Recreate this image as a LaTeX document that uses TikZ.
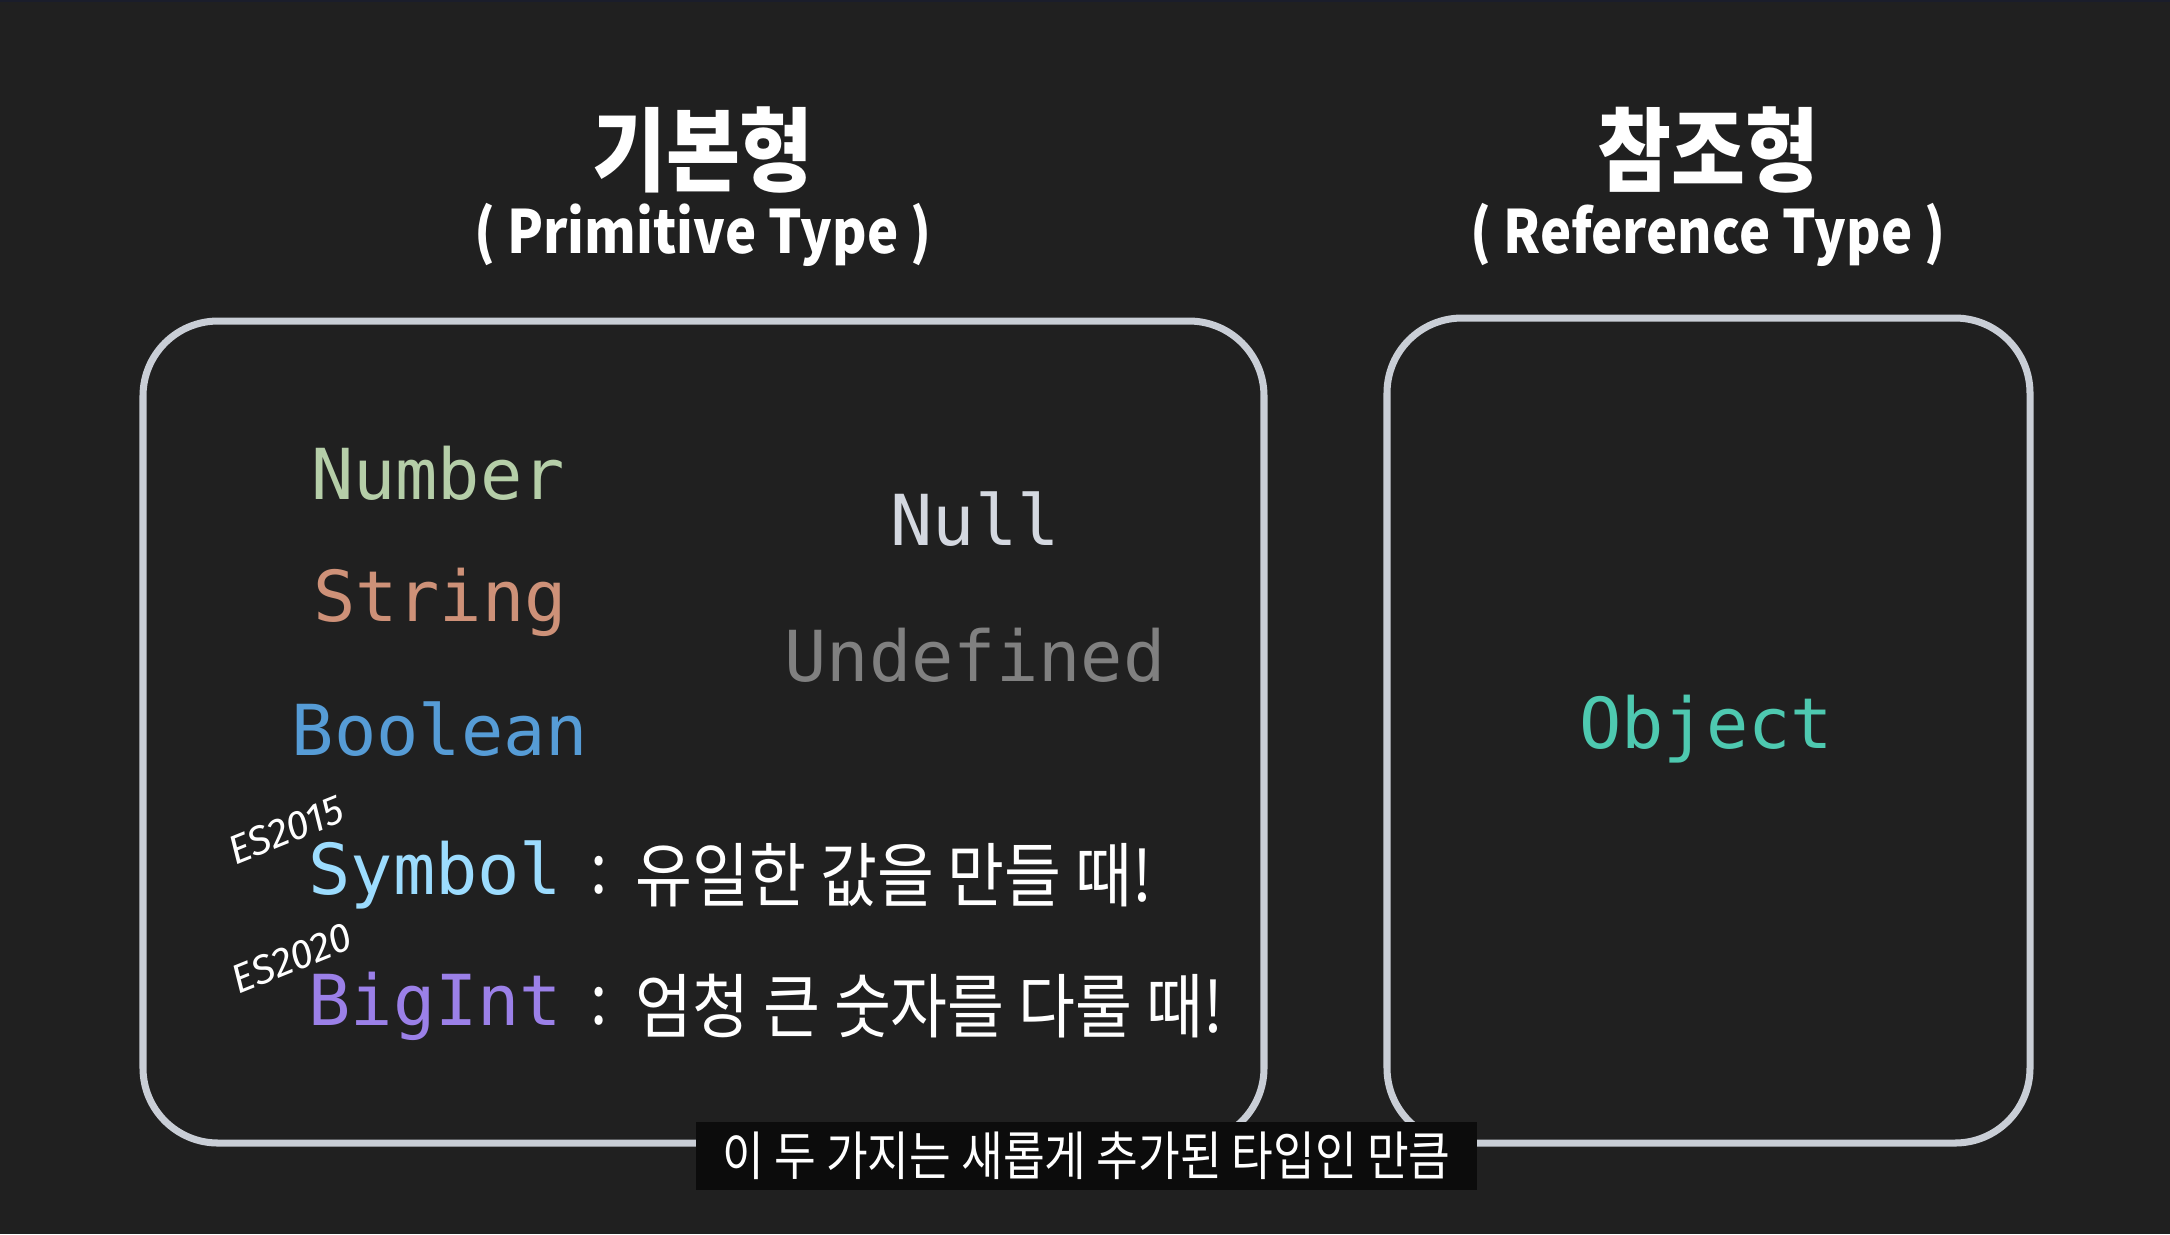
\documentclass[tikz,border=0pt]{standalone}
\usepackage{fontspec}
\setmonofont{DejaVu Sans Mono}
\newfontfamily\krfont[FakeStretch=0.88]{Noto Sans CJK KR}
\newfontfamily\krsub[FakeStretch=0.86]{Noto Sans CJK KR}
\newfontfamily\hand{Fira Sans}
\definecolor{bgcol}{HTML}{202020}
\definecolor{topcol}{HTML}{1A1D2B}
\definecolor{chalk}{HTML}{C9CED6}
\definecolor{numcol}{HTML}{B5CEA8}
\definecolor{strcol}{HTML}{CE9178}
\definecolor{boolcol}{HTML}{569CD6}
\definecolor{nullcol}{HTML}{D4D8E0}
\definecolor{undefcol}{HTML}{808080}
\definecolor{symcol}{HTML}{9CDCFE}
\definecolor{bigcol}{HTML}{9B80E8}
\definecolor{objcol}{HTML}{4EC9B0}
\definecolor{subcol}{HTML}{0C0C0C}
\begin{document}
\begin{tikzpicture}[x=1cm, y=1cm,
    boxStyle/.style={draw=chalk, line width=2pt, rounded corners=0.75cm},
    headStyle/.style={text=white, font=\krfont\bfseries\fontsize{26}{30}\selectfont, inner sep=0pt},
    subHeadStyle/.style={text=white, font=\krfont\bfseries\fontsize{17}{20}\selectfont, inner sep=0pt},
    typeStyle/.style={font=\ttfamily\fontsize{20}{24}\selectfont, inner sep=0pt},
    noteStyle/.style={text=white, font=\krfont\fontsize{20}{24}\selectfont, inner sep=0pt},
    esStyle/.style={text=white, font=\hand\itshape\fontsize{11.5}{13}\selectfont, inner sep=0pt, rotate=22},
    capStyle/.style={fill=subcol, text=white, font=\krsub\fontsize{15}{17}\selectfont, minimum width=7.81cm, minimum height=0.68cm, inner sep=0pt}]
    \fill[bgcol] (0,0) rectangle (21.70,-12.34);
    \fill[topcol] (0,0) rectangle (21.70,-0.02);
    \useasboundingbox (0,0) rectangle (21.70,-12.34);

    \node[headStyle]    (prim_title) at ( 7.03, -1.50) {기본형};
    \node[subHeadStyle] (prim_sub)   at ( 7.03, -2.35) {( Primitive Type )};
    \node[headStyle]    (ref_title)  at (17.08, -1.50) {참조형};
    \node[subHeadStyle] (ref_sub)    at (17.08, -2.35) {( Reference Type )};

    \draw[boxStyle] ( 1.43, -3.21) rectangle (12.64, -11.43);
    \draw[boxStyle] (13.87, -3.18) rectangle (20.30, -11.43);

    \node[typeStyle, text=numcol]   (number)    at ( 4.38, -4.73) {Number};
    \node[typeStyle, text=strcol]   (string)    at ( 4.40, -6.02) {String};
    \node[typeStyle, text=boolcol]  (boolean)   at ( 4.40, -7.29) {Boolean};
    \node[typeStyle, text=nullcol]  (null)      at ( 9.75, -5.19) {Null};
    \node[typeStyle, text=undefcol] (undefined) at ( 9.75, -6.55) {Undefined};

    \node[typeStyle, text=symcol, anchor=east] (symbol) at ( 5.63, -8.75) {Symbol};
    \node[noteStyle] (symbol_colon) at ( 5.99, -8.75) {:};
    \node[noteStyle, anchor=west] (symbol_note) at ( 6.35, -8.75) {유일한 값을 만들 때!};
    \node[esStyle] (symbol_es) at ( 2.86, -8.30) {ES2015};

    \node[typeStyle, text=bigcol, anchor=east] (bigint) at ( 5.63, -10.06) {BigInt};
    \node[noteStyle] (bigint_colon) at ( 5.99, -10.06) {:};
    \node[noteStyle, anchor=west] (bigint_note) at ( 6.35, -10.06) {엄청 큰 숫자를 다룰 때!};
    \node[esStyle] (bigint_es) at ( 2.92, -9.58) {ES2020};

    \node[typeStyle, text=objcol] (object) at (17.06, -7.29) {Object};

    \node[capStyle] (caption) at (10.865, -11.56) {이 두 가지는 새롭게 추가된 타입인 만큼};
\end{tikzpicture}
\end{document}
